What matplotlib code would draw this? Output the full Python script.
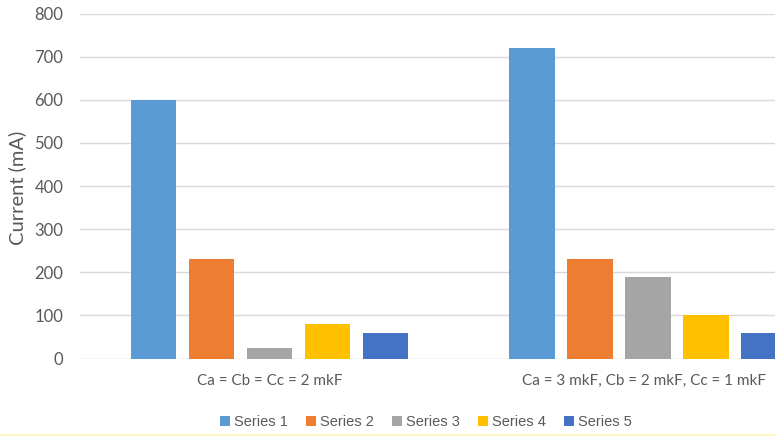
import numpy as np
import matplotlib.pyplot as plt
import matplotlib as mpl
from matplotlib.lines import Line2D

mpl.rcParams.update({'font.family': ['Lato', 'DejaVu Sans']})

categories = ['Ca = Cb = Cc = 2 mkF', 'Ca = 3 mkF, Cb = 2 mkF, Cc = 1 mkF']
series_names = ['Series 1', 'Series 2', 'Series 3', 'Series 4', 'Series 5']
series_1 = [600, 720]
series_2 = [230, 230]
series_3 = [25, 190]
series_4 = [80, 100]
series_5 = [60, 60]
values = [series_1, series_2, series_3, series_4, series_5]
colors = ['#5B9BD5', '#ED7D31', '#A5A5A5', '#FFC000', '#4472C4']

W, H = 775, 436
fig = plt.figure(figsize=(W / 100, H / 100), dpi=100)
# plot area runs past the right edge of the canvas
ax = fig.add_axes([80 / W, (H - 358.5) / H, (W - 80) / W, 345 / H])

x = np.arange(len(categories))
step, width = 0.153, 0.120
handles = []
for i, (vals, col) in enumerate(zip(values, colors)):
    b = ax.bar(x + (i - 2) * step, vals, width, color=col, zorder=3)
    handles.append(b)

ax.set_ylim(0, 800)
ax.set_xlim(-0.5, 1.335)
ax.set_yticks(range(0, 801, 100))
ax.grid(axis='y', color='#d9d9d9', linewidth=1, zorder=0)
for s in ax.spines.values():
    s.set_visible(False)
ax.tick_params(axis='y', length=0, pad=12, labelsize=12, labelcolor='#595959')
ax.set_xticks([])

label_x = [0.0, 0.99]
for xi, lab in zip(label_x, categories):
    ax.text(xi, -52, lab, ha='center', va='center', fontsize=11, color='#595959')

fig.text(17 / W, 1 - 188 / H, 'Current (mA)', rotation=90, ha='center', va='center',
         fontsize=14.5, color='#595959')

fig.legend(handles, series_names, loc='center', bbox_to_anchor=(426 / W, 1 - 422 / H),
           ncol=5, frameon=False, handlelength=0.7, handleheight=0.7,
           handletextpad=0.3, columnspacing=1.2, prop={'family': 'Liberation Sans', 'size': 10.5},
           labelcolor='#595959')

fig.add_artist(Line2D([0, 1], [1 / H, 1 / H], transform=fig.transFigure,
                      color='#fff6c4', linewidth=1.5))

fig.savefig('out.png', dpi=100)
